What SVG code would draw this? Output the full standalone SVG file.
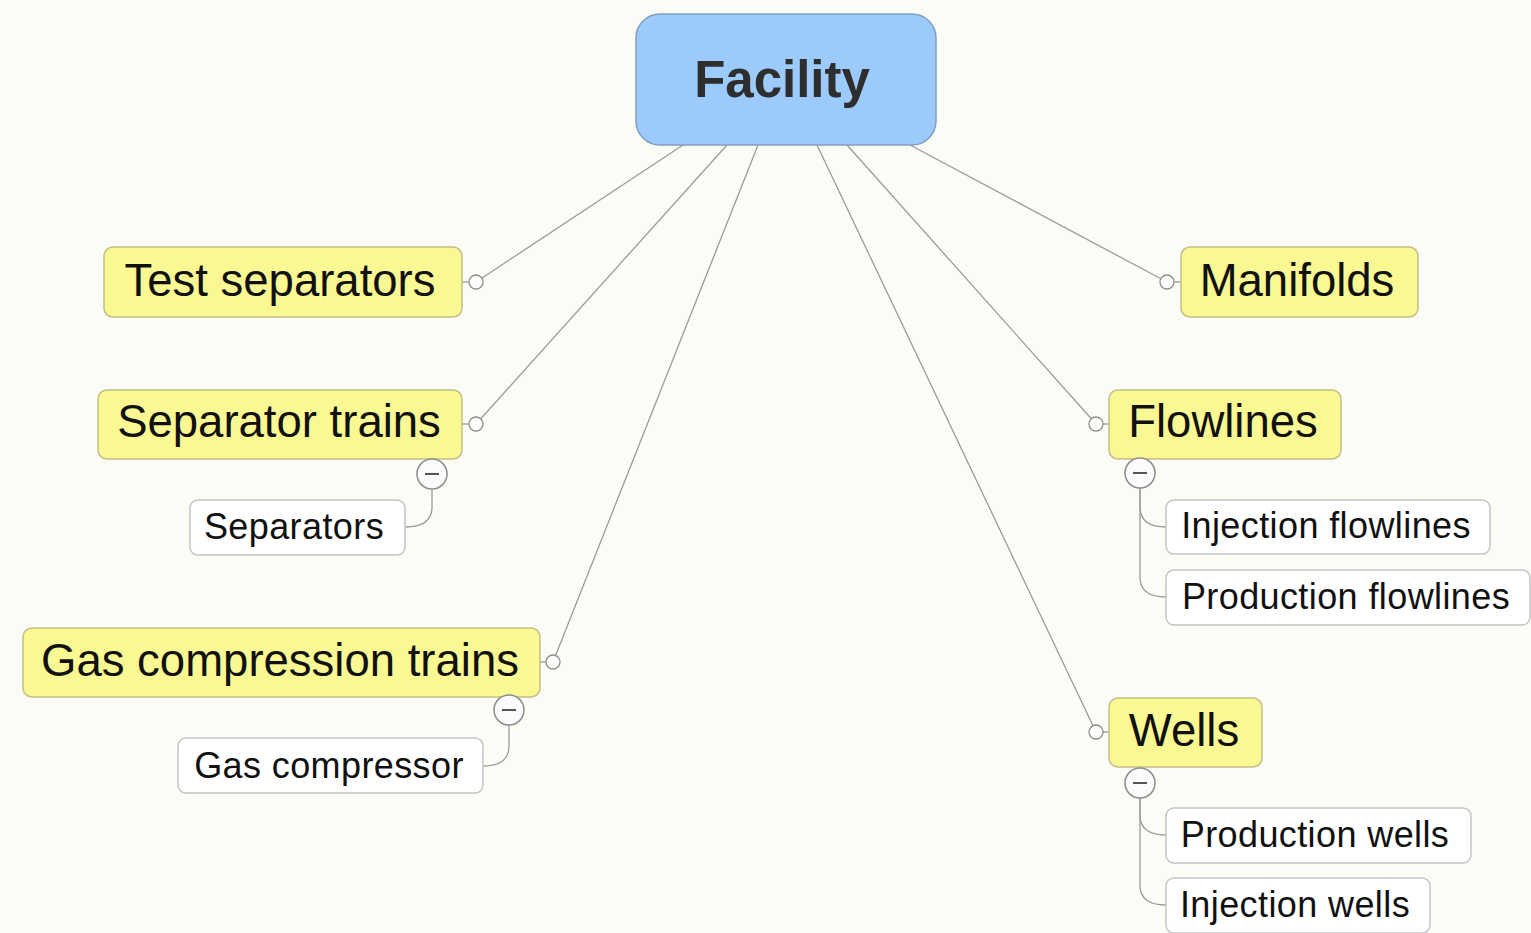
<svg xmlns="http://www.w3.org/2000/svg" width="1531" height="933" viewBox="0 0 1531 933">
<style>
.bg{fill:#fcfcf7}
.root{fill:#9ccbfb;stroke:#7f9fbf;stroke-width:1.5}
.main{fill:#faf893;stroke:#c3bf86;stroke-width:1.5}
.sub{fill:#ffffff;stroke:#c4c4c4;stroke-width:1.5}
.t{font-family:"Liberation Sans",Arial,sans-serif;fill:#111;text-anchor:middle}
.tr{font-size:51px;font-weight:bold;fill:#2e2e2e}
.tm{font-size:45.5px}
.ts{font-size:36px;letter-spacing:0.4px}
.ln{fill:none;stroke:#9a9a9a;stroke-width:1.3}
.dot{fill:#fdfdfb;stroke:#8f8f8f;stroke-width:1.3}
.col{fill:#fbfbfb;stroke:#8c8c8c;stroke-width:1.5}
.minus{stroke:#555;stroke-width:2}
</style>
<rect class="bg" x="0" y="0" width="1531" height="933"/>
<g id="connectors">
<line class="ln" x1="683" y1="145" x2="476" y2="282"/>
<line class="ln" x1="727" y1="145" x2="476" y2="424"/>
<line class="ln" x1="758" y1="145" x2="553" y2="662"/>
<line class="ln" x1="817" y1="145" x2="1096" y2="732"/>
<line class="ln" x1="847" y1="145" x2="1096" y2="424"/>
<line class="ln" x1="910" y1="145" x2="1167" y2="282"/>
<line class="ln" x1="462" y1="282" x2="476" y2="282"/>
<line class="ln" x1="462" y1="424" x2="476" y2="424"/>
<line class="ln" x1="540" y1="662" x2="553" y2="662"/>
<line class="ln" x1="1167" y1="282" x2="1181" y2="282"/>
<line class="ln" x1="1096" y1="424" x2="1109" y2="424"/>
<line class="ln" x1="1096" y1="732" x2="1109" y2="732"/>
<circle class="dot" cx="476" cy="282" r="7"/>
<circle class="dot" cx="476" cy="424" r="7"/>
<circle class="dot" cx="553" cy="662" r="7"/>
<circle class="dot" cx="1167" cy="282" r="7"/>
<circle class="dot" cx="1096" cy="424" r="7"/>
<circle class="dot" cx="1096" cy="732" r="7"/>
<path class="ln" d="M432 490 V507 C432 520 424 527 405 527"/>
<path class="ln" d="M509 725 V746 C509 759 501 766 483 766"/>
<path class="ln" d="M1140 488 V507 C1140 520 1148 527 1166 527"/>
<path class="ln" d="M1140 488 V577 C1140 590 1148 597 1166 597"/>
<path class="ln" d="M1140 798 V815 C1140 828 1148 835 1166 835"/>
<path class="ln" d="M1140 798 V885 C1140 898 1148 905 1166 905"/>
</g>
<g id="facility">
<rect class="root" x="636" y="14" width="300" height="131" rx="24"/>
<text class="t tr" x="782" y="97">Facility</text>
</g>
<g id="test-separators">
<rect class="main" x="104" y="247" width="358" height="70" rx="9"/>
<text class="t tm" x="280" y="296">Test separators</text>
</g>
<g id="separator-trains">
<rect class="main" x="98" y="390" width="364" height="69" rx="9"/>
<text class="t tm" x="279" y="437">Separator trains</text>
<circle class="col" cx="432" cy="474" r="15"/>
<line class="minus" x1="425" y1="474" x2="439" y2="474"/>
</g>
<g id="separators">
<rect class="sub" x="190" y="500" width="215" height="55" rx="8"/>
<text class="t ts" x="294" y="539">Separators</text>
</g>
<g id="gas-compression-trains">
<rect class="main" x="23" y="628" width="517" height="69" rx="9"/>
<text class="t tm" x="280" y="676">Gas compression trains</text>
<circle class="col" cx="509" cy="710" r="15"/>
<line class="minus" x1="502" y1="710" x2="516" y2="710"/>
</g>
<g id="gas-compressor">
<rect class="sub" x="178" y="738" width="305" height="55" rx="8"/>
<text class="t ts" x="329" y="778">Gas compressor</text>
</g>
<g id="manifolds">
<rect class="main" x="1181" y="247" width="237" height="70" rx="9"/>
<text class="t tm" x="1297" y="296">Manifolds</text>
</g>
<g id="flowlines">
<rect class="main" x="1109" y="390" width="232" height="69" rx="9"/>
<text class="t tm" x="1223" y="437">Flowlines</text>
<circle class="col" cx="1140" cy="473" r="15"/>
<line class="minus" x1="1133" y1="473" x2="1147" y2="473"/>
</g>
<g id="injection-flowlines">
<rect class="sub" x="1166" y="500" width="324" height="54" rx="8"/>
<text class="t ts" x="1326" y="538">Injection flowlines</text>
</g>
<g id="production-flowlines">
<rect class="sub" x="1166" y="570" width="364" height="55" rx="8"/>
<text class="t ts" x="1346" y="609">Production flowlines</text>
</g>
<g id="wells">
<rect class="main" x="1109" y="698" width="153" height="69" rx="9"/>
<text class="t tm" x="1184" y="746">Wells</text>
<circle class="col" cx="1140" cy="783" r="15"/>
<line class="minus" x1="1133" y1="783" x2="1147" y2="783"/>
</g>
<g id="production-wells">
<rect class="sub" x="1166" y="808" width="305" height="55" rx="8"/>
<text class="t ts" x="1315" y="847">Production wells</text>
</g>
<g id="injection-wells">
<rect class="sub" x="1166" y="878" width="264" height="55" rx="8"/>
<text class="t ts" x="1295" y="917">Injection wells</text>
</g>
</svg>
